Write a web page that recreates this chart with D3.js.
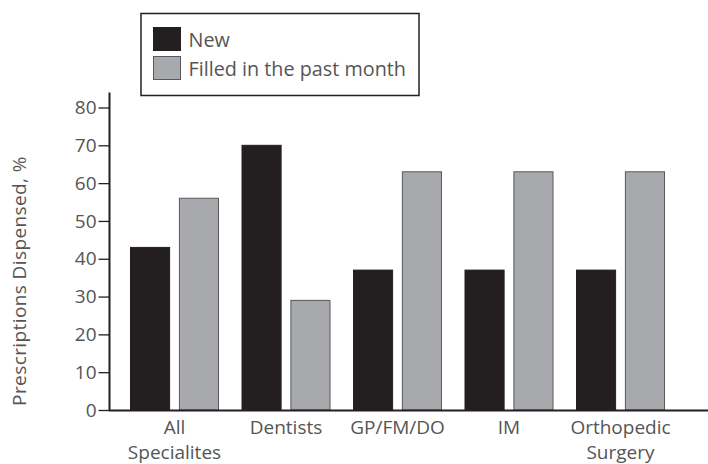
<!DOCTYPE html>
<html lang="en">
<head>
<meta charset="utf-8">
<title>Prescriptions Dispensed</title>
<script src="https://cdnjs.cloudflare.com/ajax/libs/d3/7.8.5/d3.min.js"></script>
<style>
  body { margin: 0; background: #fff; }
  svg text { font-family: "Open Sans", sans-serif; fill: #555; }
</style>
</head>
<body>
<div id="chart"></div>
<script>
// data
const categories = [["All", "Specialites"], ["Dentists"], ["GP/FM/DO"], ["IM"], ["Orthopedic", "Surgery"]];
const seriesNames = ["New", "Filled in the past month"];
const newValues = [43, 70, 37, 37, 37];
const filledValues = [56, 29, 63, 63, 63];
const yTicks = [0, 10, 20, 30, 40, 50, 60, 70, 80];

const width = 708, height = 464;
const colors = { "New": "#231f20", "Filled in the past month": "#a7a9ac" };

const svg = d3.select("#chart").append("svg")
  .attr("width", width)
  .attr("height", height);

const catKeys = categories.map(c => c.join(" "));

const x0 = d3.scaleBand()
  .domain(catKeys)
  .range([118.75, 676.25]);

const x1 = d3.scaleBand()
  .domain(seriesNames)
  .range([11.75, 99.75])
  .paddingInner(0.2);

const y = d3.scaleLinear()
  .domain([0, 80])
  .range([410, 107.5]);

const rows = catKeys.map((k, i) => ({ key: k, values: [newValues[i], filledValues[i]] }));

// bars
const groups = svg.append("g")
  .selectAll("g")
  .data(rows)
  .join("g")
  .attr("transform", d => `translate(${x0(d.key)},0)`);

groups.selectAll("rect")
  .data(d => seriesNames.map((s, j) => ({ s, v: d.values[j] })))
  .join("rect")
  .attr("x", d => x1(d.s))
  .attr("y", d => y(d.v))
  .attr("width", x1.bandwidth())
  .attr("height", d => y(0) - y(d.v))
  .attr("fill", d => colors[d.s])
  .attr("stroke", d => d.s === "New" ? "#231f20" : "#58595b")
  .attr("stroke-width", 1);

// y axis
const yAxis = d3.axisLeft(y)
  .tickValues(yTicks)
  .tickSize(11)
  .tickPadding(2);

const gy = svg.append("g")
  .attr("transform", "translate(109.5,0)")
  .call(yAxis);
gy.select(".domain").remove();
gy.append("line")
  .attr("x1", 0).attr("x2", 0)
  .attr("y1", y(84)).attr("y2", y(0) + 1)
  .attr("stroke", "#231f20").attr("stroke-width", 2);
gy.selectAll(".tick line").attr("stroke", "#231f20").attr("stroke-width", 1.3);
gy.selectAll(".tick text")
  .attr("font-size", 19)
  .attr("fill", "#555")
  .style("font-family", "'Open Sans', sans-serif");

// x axis line
svg.append("line")
  .attr("x1", 109).attr("x2", width)
  .attr("y1", y(0) + 0.5).attr("y2", y(0) + 0.5)
  .attr("stroke", "#231f20").attr("stroke-width", 2);

// x labels
const xl = svg.append("g")
  .selectAll("text")
  .data(categories)
  .join("text")
  .attr("x", (d, i) => x0(catKeys[i]) + x0.bandwidth() / 2)
  .attr("y", 434)
  .attr("text-anchor", "middle")
  .attr("font-size", 19);
xl.selectAll("tspan")
  .data(d => d)
  .join("tspan")
  .attr("x", function () { return d3.select(this.parentNode).attr("x"); })
  .attr("dy", (d, i) => i === 0 ? 0 : 25)
  .text(d => d);

// y title
svg.append("text")
  .attr("transform", "translate(26,281) rotate(-90)")
  .attr("text-anchor", "middle")
  .attr("font-size", 19)
  .attr("letter-spacing", 0.4)
  .text("Prescriptions Dispensed, %");

// legend
const legend = svg.append("g");
legend.append("rect")
  .attr("x", 141).attr("y", 13.5)
  .attr("width", 278).attr("height", 82)
  .attr("fill", "#fff")
  .attr("stroke", "#231f20")
  .attr("stroke-width", 1.5);

const items = legend.selectAll("g.item")
  .data(seriesNames)
  .join("g")
  .attr("class", "item")
  .attr("transform", (d, i) => `translate(153.5,${27.5 + i * 29})`);
items.append("rect")
  .attr("width", 27).attr("height", 23)
  .attr("fill", d => colors[d])
  .attr("stroke", d => d === "New" ? "#231f20" : "#58595b");
items.append("text")
  .attr("x", 35).attr("y", 19.5)
  .attr("font-size", 19.8)
  .text(d => d);
</script>
</body>
</html>
